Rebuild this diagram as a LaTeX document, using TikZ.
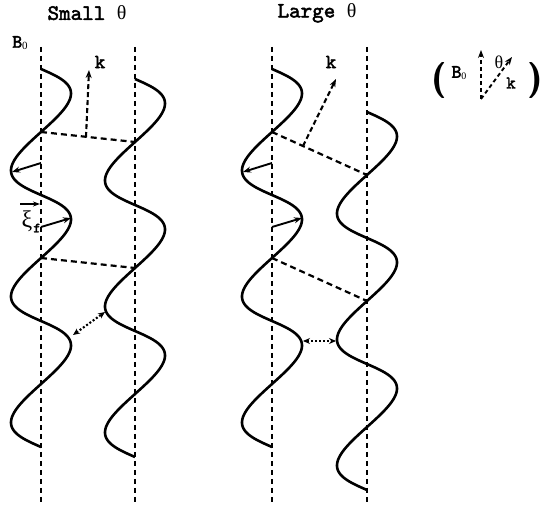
\documentclass[tikz,border=0pt]{standalone}
\usepackage{fontspec}
\setmainfont{Liberation Serif}
\newfontfamily\tbfam[FakeBold=2.2]{lmmono10-regular.otf}
\usetikzlibrary{arrows.meta}
\newcommand{\tbf}{\tbfam}
\begin{document}
\begin{tikzpicture}[x=1pt,y=-1pt,
  wave/.style={line width=2.6pt},
  fieldline/.style={line width=2.7pt, dash pattern=on 5pt off 4pt},
  front/.style={line width=2.2pt, dash pattern=on 6pt off 4pt},
  disp/.style={line width=1.9pt, -{Stealth[length=8pt,width=6pt]}},
  kvec/.style={line width=2.1pt, dash pattern=on 5pt off 3pt, -{Stealth[length=8pt,width=6pt]}},
  dotarr/.style={line width=2.1pt, dash pattern=on 2pt off 2pt, {Stealth[length=7pt,width=6pt]}-{Stealth[length=7pt,width=6pt]}},
  lab/.style={font=\tbf\fontsize{20}{20}\selectfont, inner sep=0pt},
  title/.style={font=\tbf\fontsize{22}{22}\selectfont, inner sep=0pt},
]
\useasboundingbox (0,0) rectangle (542,508);

% titles
\node[title] (t1) at (87,13) {Small {\rmfamily\fontsize{20}{20}\selectfont θ}};
\node[title] (t2) at (317,13) {Large {\rmfamily\fontsize{20}{20}\selectfont θ}};

% B0 label
\node[inner sep=0pt] (b0) at (20,43) {{\tbf\fontsize{19}{19}\selectfont B}\raisebox{-2pt}{\fontsize{11}{11}\selectfont 0}};

% field lines
\coordinate (s1t) at (41,47);   \coordinate (s1b) at (41,505);
\coordinate (s2t) at (135,47);  \coordinate (s2b) at (135,505);
\coordinate (l1t) at (272,47);  \coordinate (l1b) at (272,505);
\coordinate (l2t) at (367,47);  \coordinate (l2b) at (367,505);
\draw[fieldline] (s1t) -- (s1b);
\draw[fieldline] (s2t) -- (s2b);
\draw[fieldline] (l1t) -- (l1b);
\draw[fieldline] (l2t) -- (l2b);

% waves
\draw[wave] plot[domain=0:1080, samples=240, variable=\t] ({41+30*sin(\t)}, {69+\t/360*126-7*sin(\t)});
\draw[wave] plot[domain=0:1080, samples=240, variable=\t] ({135+30*sin(\t)}, {79+\t/360*126-7*sin(\t)});
\draw[wave] plot[domain=0:1080, samples=240, variable=\t] ({272+30*sin(\t)}, {69+\t/360*126-7*sin(\t)});
\draw[wave] plot[domain=0:1080, samples=240, variable=\t] ({367+30*sin(\t)}, {112+\t/360*126-7*sin(\t)});

% wave fronts
\coordinate (sa1) at (41,132);  \coordinate (sa2) at (135,142);
\coordinate (sb1) at (41,258);  \coordinate (sb2) at (135,268);
\coordinate (la1) at (272,132); \coordinate (la2) at (367,175);
\coordinate (lb1) at (272,258); \coordinate (lb2) at (367,301);
\draw[front] (sa1) -- (sa2);
\draw[front] (sb1) -- (sb2);
\draw[front] (la1) -- (la2);
\draw[front] (lb1) -- (lb2);

% k vectors
\coordinate (sk0) at (86,137); \coordinate (sk1) at (89,70);
\coordinate (lk0) at (303,146); \coordinate (lk1) at (336,79);
\draw[kvec] (sk0) -- (sk1);
\draw[kvec] (lk0) -- (lk1);
\node[lab] (skl) at (100,62) {k};
\node[lab] (lkl) at (331,62) {k};

% displacement arrows
\coordinate (sd1a) at (41,163); \coordinate (sd1b) at (12,172);
\coordinate (sd2a) at (41,227); \coordinate (sd2b) at (71,218);
\coordinate (ld1a) at (272,163); \coordinate (ld1b) at (243,172);
\coordinate (ld2a) at (272,227); \coordinate (ld2b) at (302,218);
\draw[disp] (sd1a) -- (sd1b);
\draw[disp] (sd2a) -- (sd2b);
\draw[disp] (ld1a) -- (ld1b);
\draw[disp] (ld2a) -- (ld2b);

% xi_f label
\node[inner sep=0pt] (xi) at (27,221) {\fontsize{24}{24}\selectfont ξ};
\node[inner sep=0pt] (xif) at (37,228) {\tbf\fontsize{14}{14}\selectfont f};
\coordinate (xa0) at (20,204); \coordinate (xa1) at (40,204);
\draw[line width=1.7pt, -{Stealth[length=7pt,width=5pt]}] (xa0) -- (xa1);

% dotted separations
\coordinate (sp1) at (73,335); \coordinate (sp2) at (105,312);
\coordinate (lp1) at (303,341); \coordinate (lp2) at (336,341);
\draw[dotarr] (sp1) -- (sp2);
\draw[dotarr] (lp1) -- (lp2);

% legend
\node[inner sep=0pt] (lpar) at (439,81) {\fontsize{36}{36}\selectfont\sffamily\bfseries (};
\node[inner sep=0pt] (rpar) at (535,81) {\fontsize{36}{36}\selectfont\sffamily\bfseries )};
\node[inner sep=0pt] (lb0) at (459,73) {{\tbf\fontsize{19}{19}\selectfont B}\raisebox{-2pt}{\fontsize{10}{10}\selectfont 0}};
\coordinate (lo) at (481,99); \coordinate (lbt) at (481,50);
\coordinate (lkt) at (512,57);
\draw[kvec, line width=1.9pt, dash pattern=on 4pt off 3pt] (lo) -- (lbt);
\draw[kvec, line width=1.9pt, dash pattern=on 4pt off 3pt] (lo) -- (lkt);
\node[inner sep=0pt] (lth) at (499,62) {\fontsize{18}{18}\selectfont θ};
\node[inner sep=0pt, font=\tbf\fontsize{18}{18}\selectfont] (lkk) at (511,83) {k};
\end{tikzpicture}
\end{document}
